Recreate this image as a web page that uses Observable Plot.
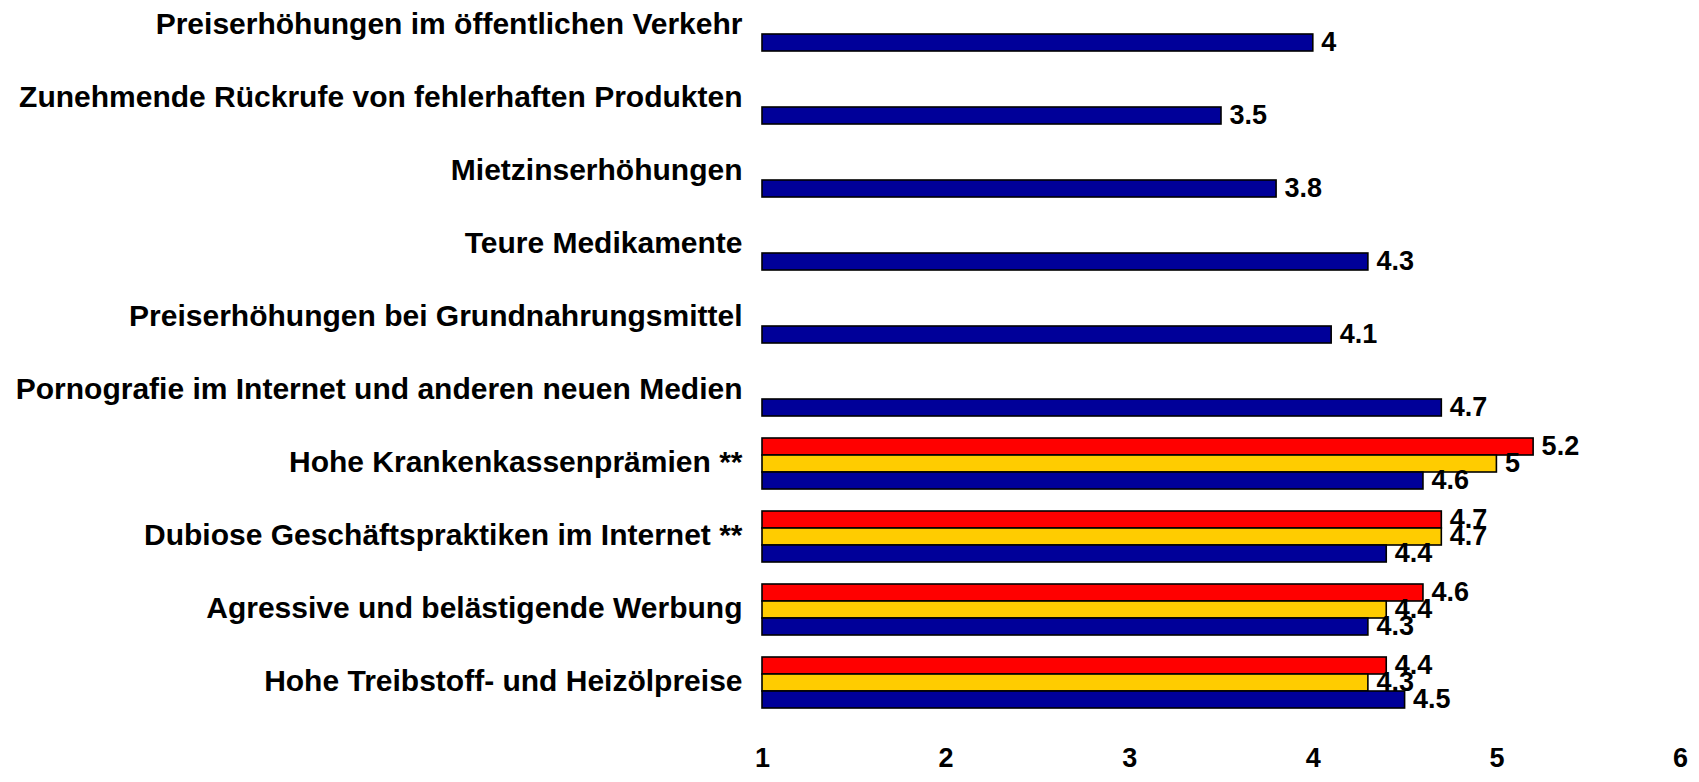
<!DOCTYPE html>
<html>
<head>
<meta charset="utf-8">
<script src="https://cdn.jsdelivr.net/npm/d3@7"></script>
<script src="https://cdn.jsdelivr.net/npm/@observablehq/plot@0.6"></script>
<style>
  html, body { margin: 0; padding: 0; background: #fff; }
  #chart svg { display: block; }
</style>
</head>
<body>
<div id="chart"></div>
<script>
const categories = [
  "Preiserhöhungen im öffentlichen Verkehr",
  "Zunehmende Rückrufe von fehlerhaften Produkten",
  "Mietzinserhöhungen",
  "Teure Medikamente",
  "Preiserhöhungen bei Grundnahrungsmittel",
  "Pornografie im Internet und anderen neuen Medien",
  "Hohe Krankenkassenprämien **",
  "Dubiose Geschäftspraktiken im Internet **",
  "Agressive und belästigende Werbung",
  "Hohe Treibstoff- und Heizölpreise"
];
const seriesNames = ["Rot", "Gelb", "Blau"];
const seriesColors = ["#ff0000", "#ffcc00", "#000099"];
const valuesRot  = [null, null, null, null, null, null, 5.2, 4.7, 4.6, 4.4];
const valuesGelb = [null, null, null, null, null, null, 5.0, 4.7, 4.4, 4.3];
const valuesBlau = [4.0, 3.5, 3.8, 4.3, 4.1, 4.7, 4.6, 4.4, 4.3, 4.5];
const xTicks = [1, 2, 3, 4, 5, 6];

const seriesValues = [valuesRot, valuesGelb, valuesBlau];
const rows = [];
categories.forEach((c, i) => {
  seriesNames.forEach((s, j) => {
    const v = seriesValues[j][i];
    if (v != null) rows.push({cat: c, series: s, value: v});
  });
});

const font = "'Liberation Sans', Arial, Helvetica, sans-serif";

const chart = Plot.plot({
  width: 1699,
  height: 782,
  marginLeft: 762,
  marginRight: 19,
  marginTop: -2,
  marginBottom: 73,
  style: {fontFamily: font, fontWeight: "bold", color: "#000", background: "#fff"},
  x: {domain: [1, 6], ticks: xTicks},
  y: {domain: seriesNames, padding: 0, axis: null},
  fy: {domain: categories, paddingInner: 0.294, paddingOuter: 0},
  color: {domain: seriesNames, range: seriesColors},
  marks: [
    Plot.barX(rows, {
      fy: "cat", y: "series", x1: () => 1, x2: "value",
      fill: "series", stroke: "#000", strokeWidth: 1.6
    }),
    Plot.text(rows, {
      fy: "cat", y: "series", x: "value", text: d => String(d.value),
      textAnchor: "start", dx: 8, dy: -1, fontSize: 27, fontWeight: "bold", fill: "#000"
    }),
    Plot.axisX({
      ticks: xTicks, tickSize: 0, tickPadding: 39, label: null,
      fontSize: 27, fontWeight: "bold", tickFormat: d => String(d)
    }),
    Plot.axisFy({
      anchor: "left", tickSize: 0, tickPadding: 20, label: null, dy: -1,
      fontSize: 30, fontWeight: "bold"
    })
  ]
});
document.getElementById("chart").appendChild(chart);
</script>
</body>
</html>
